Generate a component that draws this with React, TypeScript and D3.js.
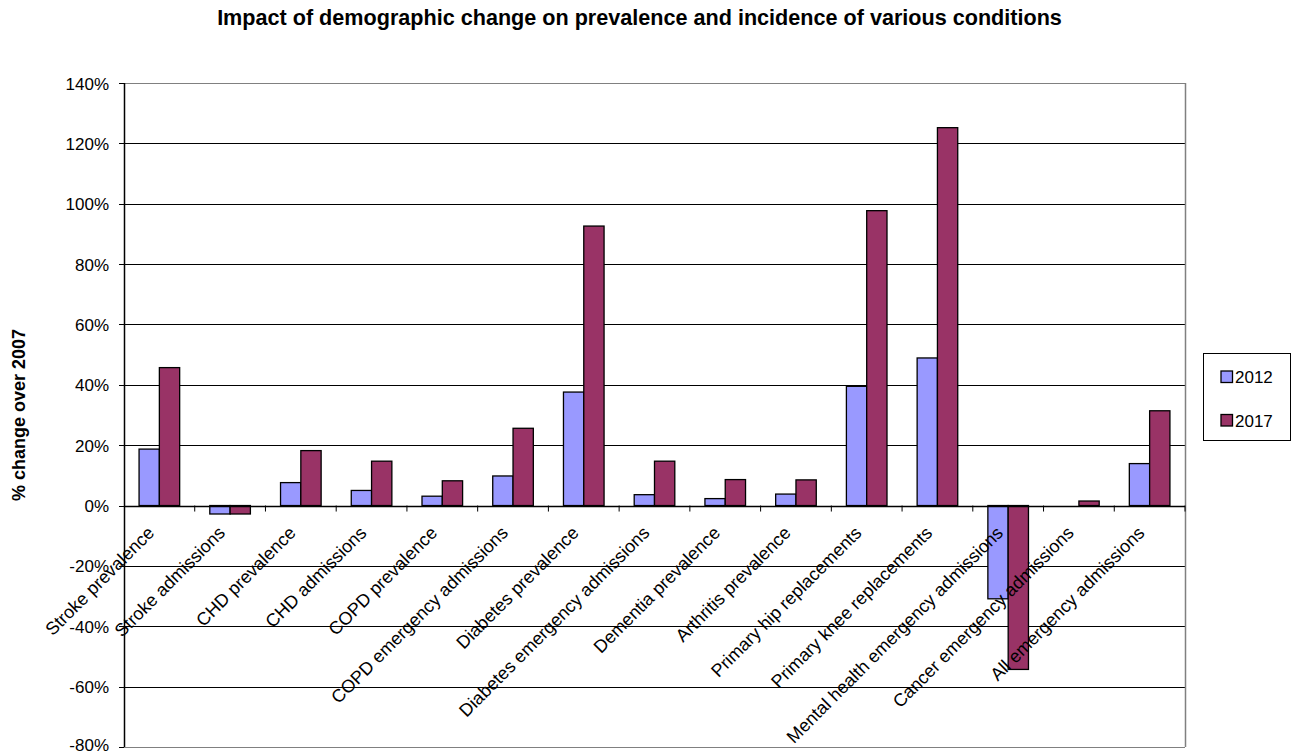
import React from "react";
import * as d3 from "d3";

const categories = [
  "Stroke prevalence",
  "Stroke admissions",
  "CHD prevalence",
  "CHD admissions",
  "COPD prevalence",
  "COPD emergency admissions",
  "Diabetes prevalence",
  "Diabetes emergency admissions",
  "Dementia prevalence",
  "Arthritis prevalence",
  "Primary hip replacements",
  "Primary knee replacements",
  "Mental health emergency admissions",
  "Cancer emergency admissions",
  "All emergency admissions",
];

const values2012 = [18.7, -2.8, 7.6, 5.0, 3.1, 9.8, 37.6, 3.6, 2.3, 3.8, 39.5, 48.9, -30.9, 0, 13.9];
const values2017 = [45.7, -2.8, 18.2, 14.7, 8.2, 25.6, 92.6, 14.7, 8.6, 8.5, 97.7, 125.2, -54.3, 1.5, 31.4];

const seriesNames = ["2012", "2017"];
const seriesColors = ["#9999FF", "#993366"];
const yTicks = [-80, -60, -40, -20, 0, 20, 40, 60, 80, 100, 120, 140];

const W = 1295;
const H = 755;
const plot = { left: 124, right: 1185, top: 83, bottom: 747 };
const FONT = "Arial, 'Liberation Sans', sans-serif";

export default function App() {
  const x = d3
    .scaleBand<string>()
    .domain(categories)
    .range([plot.left, plot.right])
    .paddingInner(0)
    .paddingOuter(0);
  const y = d3.scaleLinear().domain([-80, 140]).range([plot.bottom, plot.top]);
  const barW = 20.3;
  const y0 = y(0);
  const series = [values2012, values2017];

  return (
    <svg
      width={W}
      height={H}
      viewBox={`0 0 ${W} ${H}`}
      style={{ position: "absolute", left: 0, top: 0, background: "#fff" }}
      fontFamily={FONT}
    >
      <text
        x={639.5}
        y={25}
        textAnchor="middle"
        fontSize={21.6}
        fontWeight="bold"
        fill="#000"
      >
        Impact of demographic change on prevalence and incidence of various conditions
      </text>

      {/* horizontal gridlines */}
      {yTicks.map((t) => (
        <line
          key={"g" + t}
          x1={plot.left}
          x2={plot.right}
          y1={Math.round(y(t)) + 0.5}
          y2={Math.round(y(t)) + 0.5}
          stroke={t === 140 || t === -80 ? "#808080" : "#000"}
          strokeWidth={1}
        />
      ))}
      {/* right border */}
      <line
        x1={plot.right + 0.5}
        x2={plot.right + 0.5}
        y1={plot.top}
        y2={plot.bottom}
        stroke="#808080"
        strokeWidth={1.5}
      />

      {/* bars */}
      {series.map((vals, si) =>
        categories.map((c, i) => {
          const v = vals[i];
          const cx = (x(c) as number) + x.bandwidth() / 2;
          const bx = cx - barW + si * barW;
          const yy = y(Math.max(v, 0));
          const h = Math.abs(y(v) - y0);
          if (h < 0.01) return null;
          return (
            <rect
              key={si + "-" + i}
              x={bx}
              y={yy}
              width={barW}
              height={h}
              fill={seriesColors[si]}
              stroke="#000"
              strokeWidth={1.3}
            />
          );
        })
      )}

      {/* y axis */}
      <line
        x1={plot.left + 0.5}
        x2={plot.left + 0.5}
        y1={plot.top}
        y2={plot.bottom}
        stroke="#000"
        strokeWidth={1.5}
      />
      {yTicks.map((t) => (
        <g key={"t" + t}>
          <line
            x1={plot.left - 5}
            x2={plot.left}
            y1={Math.round(y(t)) + 0.5}
            y2={Math.round(y(t)) + 0.5}
            stroke="#000"
          />
          <text
            x={109}
            y={Math.min(y(t) + 6.5, 750.5)}
            textAnchor="end"
            fontSize={17}
            fill="#000"
          >
            {t + "%"}
          </text>
        </g>
      ))}

      {/* zero axis with category ticks */}
      <line
        x1={plot.left}
        x2={plot.right}
        y1={Math.round(y0) + 0.5}
        y2={Math.round(y0) + 0.5}
        stroke="#000"
        strokeWidth={1.5}
      />
      {categories.map((c, i) =>
        i === 0 ? null : (
          <line
            key={"ct" + i}
            x1={x(c) as number}
            x2={x(c) as number}
            y1={y0}
            y2={y0 + 6}
            stroke="#000"
          />
        )
      )}
      <line x1={plot.right} x2={plot.right} y1={y0} y2={y0 + 6} stroke="#000" />

      {/* category labels */}
      {categories.map((c) => {
        const cx = (x(c) as number) + x.bandwidth() / 2 - 4;
        const ly = 534;
        return (
          <text
            key={"l" + c}
            x={cx}
            y={ly}
            transform={`rotate(-45, ${cx}, ${ly})`}
            textAnchor="end"
            fontSize={18}
            fill="#000"
          >
            {c}
          </text>
        );
      })}

      {/* y axis title */}
      <text
        transform={`translate(24.5, ${(plot.top + plot.bottom) / 2}) rotate(-90)`}
        textAnchor="middle"
        fontSize={18}
        fontWeight="bold"
        fill="#000"
      >
        % change over 2007
      </text>

      {/* legend */}
      <rect x={1203.5} y={353.5} width={87} height={87} fill="#fff" stroke="#000" strokeWidth={1} />
      {seriesNames.map((s, i) => (
        <g key={"lg" + s}>
          <rect
            x={1221}
            y={371 + i * 43.5}
            width={11.5}
            height={11.5}
            fill={seriesColors[i]}
            stroke="#000"
            strokeWidth={1.3}
          />
          <text x={1235} y={383 + i * 43.5} fontSize={17} fill="#000">
            {s}
          </text>
        </g>
      ))}
    </svg>
  );
}
